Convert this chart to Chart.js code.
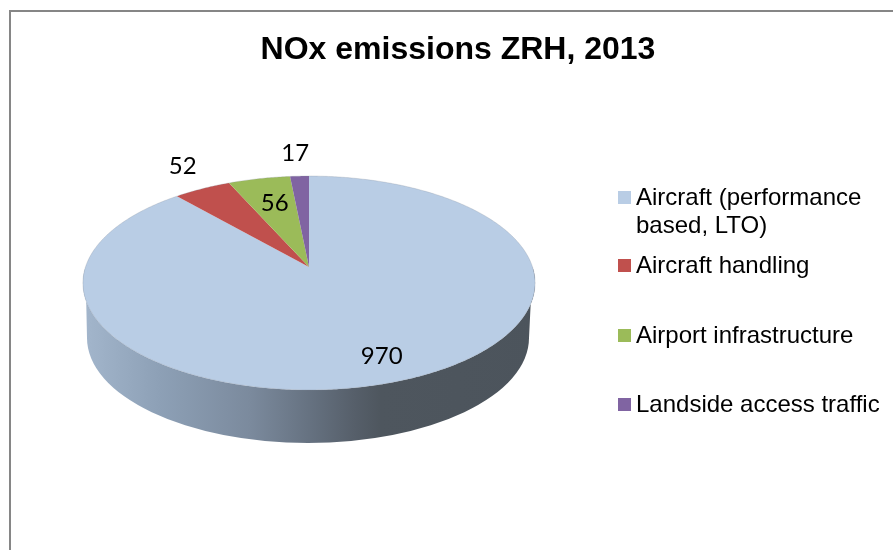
<!DOCTYPE html>
<html>
<head>
<meta charset="utf-8">
<title>NOx emissions ZRH, 2013</title>
<script src="https://cdn.jsdelivr.net/npm/chart.js@4"></script>
<style>
  html, body { margin: 0; padding: 0; background: #fff; overflow: hidden; }
  canvas { display: block; }
</style>
</head>
<body>
<canvas id="noxChart" width="893" height="550"></canvas>
<script>
// data
const chartTitle = 'NOx emissions ZRH, 2013';
const categories = ['Aircraft (performance based, LTO)', 'Aircraft handling', 'Airport infrastructure', 'Landside access traffic'];
const noxValues = [970, 52, 56, 17];
const sliceColors = ['#B9CDE5', '#C0504D', '#9BBB59', '#8064A2'];

// legend rows, long name wraps on two lines
const legendLines = [['Aircraft (performance', 'based, LTO)'], ['Aircraft handling'], ['Airport infrastructure'], ['Landside access traffic']];
const legendBaselines = [205, 273, 343, 412];

// where each value label sits: r = share of the radius along the middle of the slice
const labelPlacement = [{ r: 0.81, dx: 1, dy: 0 }, { r: 1.21, dx: 0, dy: -8 }, { r: 0.7, dx: 2, dy: 1 }, { r: 1.3, dx: -2, dy: 0 }];

// the pie top is a tilted circle seen in perspective
const persp = 0.1495, tilt = 0.286, widthFactor = 0.989;
const wallDrop = 71, wallRx = 221, wallRy = 105;

function project(el, r, theta) {
    const d = 1 + persp * r * Math.cos(theta);
    return {
        x: el.x + el.outerRadius * widthFactor * r * Math.sin(theta) / d,
        y: (el.y - el.outerRadius * tilt * r * Math.cos(theta)) / d
    };
}

function traceRim(ctx, el, from, to) {
    const steps = Math.max(2, Math.ceil((to - from) / 0.01));
    for (let i = 0; i <= steps; i++) {
        const p = project(el, 1, from + (to - from) * i / steps);
        ctx.lineTo(p.x, p.y);
    }
}

// side wall below the near half of the rim
function drawWall(ctx, el) {
    const grad = ctx.createLinearGradient(el.x - 226, 0, el.x + 226, 0);
    grad.addColorStop(0, '#A3B6CC');
    grad.addColorStop(0.17, '#8DA0B6');
    grad.addColorStop(0.37, '#7B8A9D');
    grad.addColorStop(0.5, '#667281');
    grad.addColorStop(0.6, '#565F6A');
    grad.addColorStop(0.66, '#4E565E');
    grad.addColorStop(1, '#4C545C');
    ctx.beginPath();
    traceRim(ctx, el, Math.PI * 0.5, Math.PI * 1.5);
    ctx.ellipse(el.x - 1, el.y + wallDrop, wallRx, wallRy, 0, Math.PI, 0, true);
    ctx.closePath();
    ctx.fillStyle = grad;
    ctx.fill();
}

const pie3d = {
    id: 'pie3d',
    // arcs are replaced by the projected ones below
    beforeDatasetDraw() { return false; },
    beforeDraw(chart) {
        const ctx = chart.ctx;
        ctx.save();
        ctx.fillStyle = '#fff';
        ctx.fillRect(0, 0, chart.width, chart.height);
        ctx.fillStyle = '#868686';
        ctx.fillRect(9, 10, chart.width - 9, 2);
        ctx.fillRect(9, 10, 2, chart.height - 10);
        ctx.restore();
    },
    afterDatasetsDraw(chart) {
        const ctx = chart.ctx;
        const arcs = chart.getDatasetMeta(0).data;
        ctx.save();
        drawWall(ctx, arcs[0]);
        arcs.forEach((el, i) => {
            const from = el.startAngle + Math.PI / 2;
            const to = el.endAngle + Math.PI / 2;
            ctx.beginPath();
            ctx.moveTo(el.x, el.y);
            traceRim(ctx, el, from, to);
            ctx.closePath();
            ctx.fillStyle = sliceColors[i];
            ctx.fill();
        });
        // thin edge round the top
        ctx.beginPath();
        traceRim(ctx, arcs[0], 0, Math.PI * 2);
        ctx.closePath();
        ctx.strokeStyle = 'rgba(130,140,150,0.25)';
        ctx.lineWidth = 1;
        ctx.stroke();

        ctx.fillStyle = '#000';
        ctx.font = '24px Lato';
        ctx.textAlign = 'center';
        ctx.textBaseline = 'middle';
        arcs.forEach((el, i) => {
            const place = labelPlacement[i];
            const mid = (el.startAngle + el.endAngle) / 2 + Math.PI / 2;
            const p = project(el, place.r, mid);
            ctx.fillText(String(noxValues[i]), p.x + place.dx, p.y + place.dy);
        });
        ctx.restore();
    }
};

// legend as a layout box, so it takes its room on the right of the pie
const legendBox = {
    position: 'right',
    weight: 0,
    fullSize: false,
    options: {},
    isHorizontal() { return false; },
    update(maxW, maxH) { this.width = 298; this.height = maxH; },
    draw() {
        const ctx = this.ctx;
        ctx.save();
        ctx.font = '24px "Liberation Sans"';
        ctx.textBaseline = 'alphabetic';
        ctx.textAlign = 'left';
        legendLines.forEach((lines, i) => {
            ctx.fillStyle = sliceColors[i];
            ctx.fillRect(this.left + 23, legendBaselines[i] - 14, 13, 13);
            ctx.fillStyle = '#000';
            lines.forEach((line, n) => ctx.fillText(line, this.left + 41, legendBaselines[i] + n * 28));
        });
        ctx.restore();
    }
};

const legendPlugin = {
    id: 'sideLegend',
    beforeInit(chart) {
        legendBox.ctx = chart.ctx;
        Chart.layouts.addBox(chart, legendBox);
    }
};

new Chart(document.getElementById('noxChart').getContext('2d'), {
    type: 'pie',
    data: {
        labels: categories,
        datasets: [{ data: noxValues, backgroundColor: sliceColors, borderWidth: 0, radius: 226 }]
    },
    options: {
        responsive: false,
        animation: false,
        layout: { padding: { left: 23, right: 0, top: 0, bottom: 86 } },
        plugins: {
            legend: { display: false },
            tooltip: { enabled: false },
            title: {
                display: true,
                text: chartTitle,
                color: '#000',
                font: { family: '"Liberation Sans"', size: 32, weight: 'bold', lineHeight: 1.25 },
                padding: { top: 30, bottom: 0 }
            }
        }
    },
    plugins: [pie3d, legendPlugin]
});
</script>
</body>
</html>
